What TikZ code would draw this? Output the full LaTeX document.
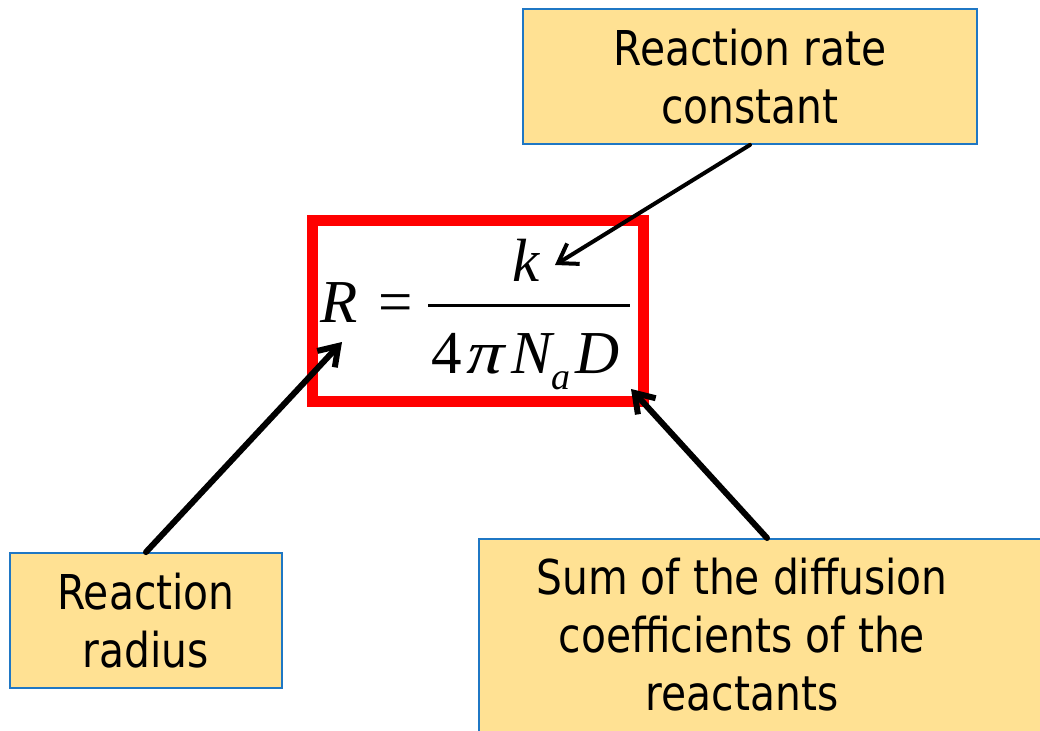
\documentclass[tikz,border=0pt]{standalone}
\usepackage{graphicx}
\usepackage{fontspec}
\setmainfont{DejaVu Sans}[FakeStretch=0.85]
\newfontfamily\tms{Liberation Serif}
\newfontfamily\tmsslant{Liberation Serif}[FakeSlant=0.22]
\usetikzlibrary{arrows.meta}
\definecolor{boxfill}{HTML}{FFE193}
\definecolor{boxline}{HTML}{1F77C4}
\begin{document}
\begin{tikzpicture}[x=1pt,y=-1pt,
  labelbox/.style={draw=boxline, line width=1.8pt, fill=boxfill, inner sep=0pt},
  labeltext/.style={align=center, font=\fontsize{48}{58}\selectfont, inner sep=0pt},
  eq/.style={anchor=base west, inner sep=0pt, font=\tms\itshape\fontsize{61}{61}\selectfont},
  equp/.style={anchor=base west, inner sep=0pt, font=\tms\fontsize{61}{61}\selectfont},
  eqpi/.style={anchor=base west, inner sep=0pt, font=\tmsslant\fontsize{61}{61}\selectfont},
  eqsub/.style={anchor=base west, inner sep=0pt, font=\tms\itshape\fontsize{38}{38}\selectfont},
  pointer/.style={draw=black, line cap=round, -{Straight Barb[length=18pt,width=24pt]}}]
\clip (0,0) rectangle (1040,730);
\fill[white] (0,0) rectangle (1040,730);

% label boxes
\node[labelbox, labeltext, minimum width=454pt, minimum height=135pt] (ratebox) at (750,76.5) {Reaction rate\\constant};
\node[labelbox, labeltext, minimum width=272pt, minimum height=135pt] (radiusbox) at (146,620.5) {Reaction\\radius};
\node[labelbox, anchor=north west, minimum width=580pt, minimum height=200pt] (sumbox) at (478,538) {};
\node[labeltext] (sumtext) at (742,634.5) {Sum of the diffusion\\coefficients of the\\reactants};

% equation box
\draw[red, line width=11pt] (312,220.5) rectangle (643,401);
\node[eq] (R) at (320,322) {R};
\node[equp] (eqsign) at (378,322) {=};
\draw[line width=3pt] (428,305) -- (630,305);
\node[eq] (k) at (512,281) {k};
\node[equp] (four) at (431,373) {4};
\node[eqpi] (pi) at (463,373) {\scalebox{1.2}[1]{π}};
\node[eq] (N) at (511,373) {N};
\node[eqsub] (a) at (551,389) {a};
\node[eq] (D) at (575,373) {D};

% pointers
\coordinate (ktip) at (555,265);
\coordinate (Rtip) at (342,342);
\coordinate (sumtop) at (767,538);
\coordinate (Dtip) at (631,389);
\draw[pointer, line width=4pt] (ratebox.south) -- (ktip);
\draw[pointer, line width=6pt] (radiusbox.north) -- (Rtip);
\draw[pointer, line width=6pt] (sumtop) -- (Dtip);
\end{tikzpicture}
\end{document}
